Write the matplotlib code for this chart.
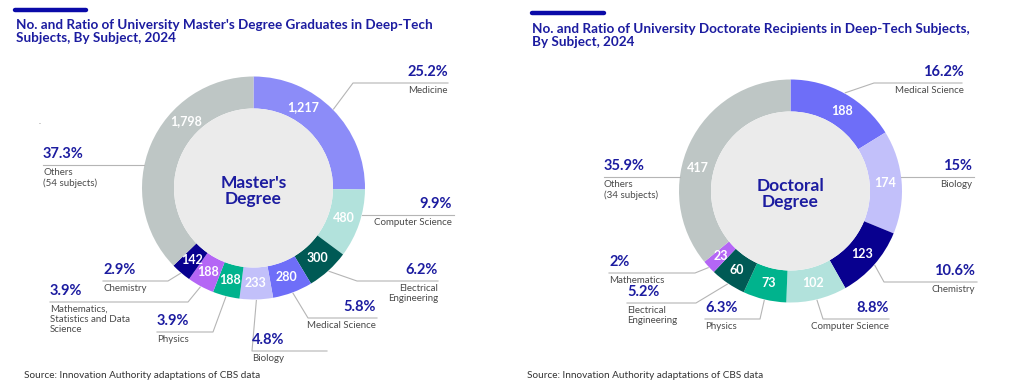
import matplotlib
matplotlib.use("Agg")
import matplotlib.pyplot as plt
from matplotlib.patches import Circle
import numpy as np

plt.rcParams['font.family'] = ['Lato', 'DejaVu Sans']

W, H = 1024, 387

# --- data -------------------------------------------------------------
masters_subjects = ["Medicine", "Computer Science", "Electrical\nEngineering",
                    "Medical Science", "Biology", "Physics",
                    "Mathematics,\nStatistics and Data\nScience", "Chemistry",
                    "Others\n(54 subjects)"]
masters_counts = [1217, 480, 300, 280, 233, 188, 188, 142, 1798]
masters_pcts = ["25.2%", "9.9%", "6.2%", "5.8%", "4.8%", "3.9%", "3.9%", "2.9%", "37.3%"]

doct_subjects = ["Medical Science", "Biology", "Chemistry", "Computer Science",
                 "Physics", "Electrical\nEngineering", "Mathematics",
                 "Others\n(34 subjects)"]
doct_counts = [188, 174, 123, 102, 73, 60, 23, 417]
doct_pcts = ["16.2%", "15%", "10.6%", "8.8%", "6.3%", "5.2%", "2%", "35.9%"]

# --- style ------------------------------------------------------------
NAVY = '#1c1ca0'
c_medicine = '#8c8cf8'
c_cs = '#b2e2dc'
c_ee = '#005a55'
c_medsci = '#6e6ef8'
c_bio = '#c2c0fa'
c_phys = '#00b38d'
c_math = '#b466f5'
c_chem = '#08008f'
c_other = '#bec6c5'

masters_colors = [c_medicine, c_cs, c_ee, c_medsci, c_bio, c_phys, c_math, c_chem, c_other]
doct_colors = [c_medsci, c_bio, c_chem, c_cs, c_phys, c_ee, c_math, c_other]

# leader layout in pixels (y down): elbow x, line y, line end x, text x, align
masters_layout = [
    (353, 83, 448, 448, 'right'),
    (None, 215, 454, 452, 'right'),
    (357, 281, 438, 438, 'right'),
    (308, 318, 377, 376, 'right'),
    (252, 351, 327, 252, 'left'),
    (213, 332, 157, 157, 'left'),
    (188, 302, 50, 50, 'left'),
    (168, 281, 103, 103, 'left'),
    (None, 165, 43, 43, 'left'),
]
doct_layout = [
    (874, 83, 962, 964, 'right'),
    (None, 177, 974, 972, 'right'),
    (884, 282, 977, 975, 'right'),
    (823, 319, 889, 889, 'right'),
    (760, 319, 705, 705, 'left'),
    (696, 303, 627, 627, 'left'),
    (695, 273, 609, 609, 'left'),
    (None, 177, 604, 604, 'left'),
]
masters_value_shift = [13.7, 0, 0, 0, 0, 0, 0, 0, -22]
doct_value_shift = [-4, 0, 0, 0, 0, 0, 0, 11.5]

fig = plt.figure(figsize=(W / 100, H / 100), dpi=100)
ax = fig.add_axes([0, 0, 1, 1])


def Y(y):
    return H - y


def donut(cx, cy, counts, colors, pcts, subjects, layout, shifts, center_text):
    R, r_in = 111.5, 79.5
    cy = Y(cy)
    ax.pie(counts, colors=colors, startangle=90, counterclock=False,
           radius=R, center=(cx, cy), wedgeprops=dict(width=R - r_in, linewidth=0))
    ax.add_patch(Circle((cx, cy), r_in, facecolor='#ebebeb', edgecolor='none', zorder=3))
    ax.text(cx, cy - 3, center_text, ha='center', va='center', fontsize=12.5,
            fontweight='bold', color=NAVY, linespacing=1.0, zorder=4)

    total = float(sum(counts))
    cum = np.cumsum([0] + list(counts))
    for i, v in enumerate(counts):
        mid = 90 - 360 * (cum[i] + v / 2) / total
        a = np.radians(mid + shifts[i])
        ax.text(cx + 95 * np.cos(a), cy + 95 * np.sin(a), f"{v:,}", ha='center',
                va='center', color='white', fontsize=9, fontweight='bold', zorder=4)

        ex, ly, endx, tx, ha = layout[i]
        if ex is None:
            dy = Y(ly) - cy
            dx = np.sqrt(max(R ** 2 - dy ** 2, 0))
            sx = cx + dx if endx > cx else cx - dx
            xs, ys = [sx, endx], [Y(ly), Y(ly)]
        else:
            am = np.radians(mid)
            sx, sy = cx + (R + 1) * np.cos(am), cy + (R + 1) * np.sin(am)
            xs, ys = [sx, ex, endx], [sy, Y(ly), Y(ly)]
        ax.plot(xs, ys, color='#b5b5b5', lw=0.8, zorder=2)
        ax.text(tx, Y(ly) + 4, pcts[i], ha=ha, va='bottom', fontsize=10.5,
                fontweight='bold', color=NAVY)
        ax.text(tx, Y(ly) - 3, subjects[i], ha=ha, va='top', fontsize=7,
                color='#4a4a4a', linespacing=1.15)


donut(253.5, 188, masters_counts, masters_colors, masters_pcts, masters_subjects,
      masters_layout, masters_value_shift, "Master's\nDegree")
donut(790.5, 191, doct_counts, doct_colors, doct_pcts, doct_subjects,
      doct_layout, doct_value_shift, "Doctoral\nDegree")

# titles
ax.plot([15, 86], [Y(10), Y(10)], color='#0a0aa8', lw=3.2, solid_capstyle='round')
ax.plot([532, 604], [Y(13), Y(13)], color='#0a0aa8', lw=3.2, solid_capstyle='round')
ax.text(16, Y(19), "No. and Ratio of University Master's Degree Graduates in Deep-Tech\n"
        "Subjects, By Subject, 2024", ha='left', va='top', fontsize=9.7,
        fontweight='bold', color=NAVY, linespacing=1.1)
ax.text(532, Y(23), "No. and Ratio of University Doctorate Recipients in Deep-Tech Subjects,\n"
        "By Subject, 2024", ha='left', va='top', fontsize=9.7,
        fontweight='bold', color=NAVY, linespacing=1.1)

ax.text(40, Y(121), ".", ha='center', va='center', fontsize=6, color='#888888')
ax.text(24, Y(375), "Source: Innovation Authority adaptations of CBS data", ha='left',
        va='center', fontsize=7.2, color='#333333')
ax.text(527, Y(376), "Source: Innovation Authority adaptations of CBS data", ha='left',
        va='center', fontsize=7.2, color='#333333')

ax.set_xlim(0, W)
ax.set_ylim(0, H)
ax.set_aspect('equal')
ax.axis('off')

fig.savefig("out.png", dpi=100)
